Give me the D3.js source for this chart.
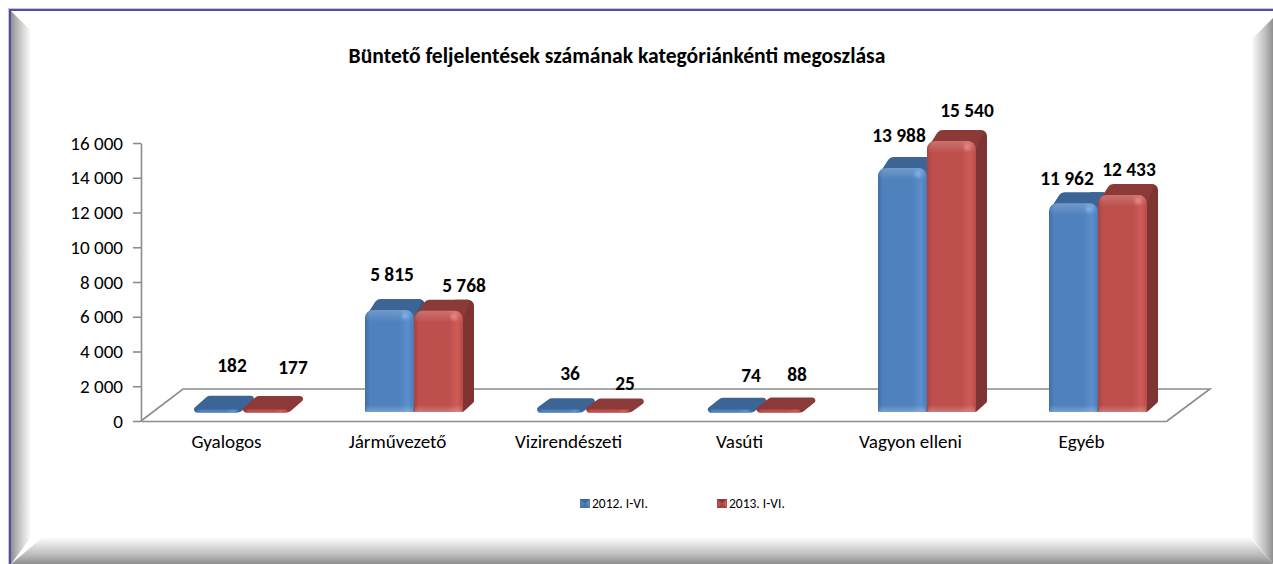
<!DOCTYPE html>
<html lang="hu"><head><meta charset="utf-8">
<style>html,body{margin:0;padding:0;background:#fff;overflow:hidden}svg{display:block}
text{font-family:Carlito,Calibri,Lato,sans-serif;fill:#000}</style>
<script src="https://cdn.jsdelivr.net/npm/d3@7"></script></head><body>
<script>
const chartTitle = "Büntető feljelentések számának kategóriánkénti megoszlása";
const categories = ["Gyalogos","Járművezető","Vizirendészeti","Vasúti","Vagyon elleni","Egyéb"];
const seriesNames = ["2012. I-VI.","2013. I-VI."];
const values2012 = [182,5815,36,74,13988,11962];
const values2013 = [177,5768,25,88,15540,12433];
const yTicks = [0,2000,4000,6000,8000,10000,12000,14000,16000];
const nudges2012 = [[8,-19],[-3,-12],[4,-13],[14,-11],[-9,-9],[-12,-1]];
const nudges2013 = [[20,-17],[20,-2],[10,-3],[11,-11],[10,-7],[1,-2]];

const W=1273,H=564;
const svg=d3.select("body").append("svg").attr("width",W).attr("height",H).attr("viewBox",`0 0 ${W} ${H}`);
const defs=svg.append("defs");
function lin(id,x1,y1,x2,y2,stops){
  const g=defs.append("linearGradient").attr("id",id).attr("x1",x1).attr("y1",y1).attr("x2",x2).attr("y2",y2);
  stops.forEach(s=>g.append("stop").attr("offset",s[0]).attr("stop-color",s[1]).attr("stop-opacity",s[2]===undefined?1:s[2]));
}
lin("bvL",0,0,1,0,[[0,"#8f8f8f"],[.35,"#bdbdbd"],[1,"#ffffff"]]);
lin("bvR",1,0,0,0,[[0,"#8f8f8f"],[.35,"#bdbdbd"],[1,"#ffffff"]]);
lin("bvB",0,1,0,0,[[0,"#8f8f8f"],[.35,"#bdbdbd"],[1,"#ffffff"]]);
lin("shT",0,0,0,1,[[0,"#ffffff",.2],[1,"#ffffff",0]]);
lin("shB",0,0,0,1,[[0,"#ffffff",0],[1,"#ffffff",.25]]);

// frame
const line=d3.line();
svg.append("path").attr("d",line([[11,11],[31,31],[31,537],[11,564]])+"Z").attr("fill","url(#bvL)");
svg.append("path").attr("d",line([[1273,18],[1251,40],[1251,537],[1273,564]])+"Z").attr("fill","url(#bvR)");
svg.append("path").attr("d",line([[11,564],[43,537],[1250,537],[1273,564]])+"Z").attr("fill","url(#bvB)");
svg.append("rect").attr("x",8).attr("y",8).attr("width",1265).attr("height",1).attr("fill","#c8c8c8");
svg.append("rect").attr("x",8).attr("y",8).attr("width",1).attr("height",556).attr("fill","#c8c8c8");
svg.append("rect").attr("x",9).attr("y",9).attr("width",1264).attr("height",2).attr("fill","#4f4fa8");
svg.append("rect").attr("x",9).attr("y",9).attr("width",2).attr("height",555).attr("fill","#4f4fa8");

svg.append("text").attr("x",617).attr("y",63).attr("text-anchor","middle")
  .attr("font-size",21.6).attr("font-weight",700).text(chartTitle);

// scales
const x0=d3.scaleBand().domain(categories).range([141,1167]);
const x1=d3.scaleBand().domain(seriesNames).range([53,151]);
const y=d3.scaleLinear().domain([0,16000]).range([421,143]);
const depthX=11, baseLift=10, backRise=11, floorX=42, floorY=32;
const fmt=v=>d3.format(",")(v).replace(/,/g," ");
const gridColor="#8c8c8c";

// floor
svg.append("path").attr("fill","none").attr("stroke",gridColor).attr("stroke-width",1.6)
  .attr("d",line([[x0.range()[0],y(0)],[x0.range()[0]+floorX,y(0)-floorY],[x0.range()[1]+floorX+1,y(0)-floorY],[x0.range()[1],y(0)]]));

// axes
const ya=svg.append("g").attr("transform","translate(141,0)")
  .call(d3.axisLeft(y).tickValues(yTicks).tickFormat(fmt).tickSize(8).tickSizeOuter(0).tickPadding(10));
const xa=svg.append("g").attr("transform",`translate(0,${y(0)})`)
  .call(d3.axisBottom(x0).tickSize(0).tickPadding(13));
[ya,xa].forEach(a=>{a.selectAll("path,line").attr("stroke",gridColor).attr("stroke-width",1.6);
  a.selectAll("text").attr("font-size",19.1).attr("font-family","Carlito,Calibri,Lato,sans-serif").attr("fill","#000");});
xa.selectAll("text").attr("dy","0.71em");

// bars
const palette=[
 {id:"b",front:["#3f6fa8","#4f81bd","#4f81bd","#5b8fcc","#4a7ab4"],rim:"#6ea5e0",top:"#3c6596",side:"#365a87",glow:"#7db4ee"},
 {id:"r",front:["#a84240","#bd4f4c","#bd4f4c","#cf5b58","#b84a47"],rim:"#e07570",top:"#8c3a38",side:"#7e3432",glow:"#ee8a85"}];
palette.forEach(p=>{
  lin("f"+p.id,0,0,1,0,[[0,p.front[0]],[.1,p.front[1]],[.7,p.front[2]],[.88,p.front[3]],[1,p.front[4]]]);
  const g=defs.append("radialGradient").attr("id","g"+p.id);
  g.append("stop").attr("offset",0).attr("stop-color",p.glow).attr("stop-opacity",.95);
  g.append("stop").attr("offset",1).attr("stop-color",p.glow).attr("stop-opacity",0);
});
function rounded(pts,rs){
  const p=d3.path(),n=pts.length;
  const a=pts[n-1],b=pts[0];
  p.moveTo((a[0]+b[0])/2,(a[1]+b[1])/2);
  for(let i=0;i<n;i++){
    const c=pts[i],d=pts[(i+1)%n];
    p.arcTo(c[0],c[1],d[0],d[1],Array.isArray(rs)?rs[i]:rs);
  }
  p.closePath();
  return p.toString();
}
const bars=svg.append("g");
[values2012,values2013].forEach((vals,s)=>{
  const name=seriesNames[s],c=palette[s];
  const bw=x1.bandwidth();
  vals.forEach((v,i)=>{
    const g=bars.append("g");
    const xl=x0(categories[i])+x1(name), xr=xl+bw;
    const yb=y(0)-baseLift, yt=y(v)-baseLift;
    const h=yb-yt, tall=h>12, r=8;
    if(tall){
      const yf=yt+8;
      g.append("path").attr("fill",c.side)
        .attr("d",rounded([[xr-8,yt-backRise],[xr+depthX,yt-backRise],[xr+depthX,yb-9],[xr,yb+1],[xr-4,yb+1]],[0,6,3,3,0]));
      g.append("path").attr("fill",c.top)
        .attr("d",rounded([[xl,yf],[xl+depthX+1,yt-backRise],[xr+depthX-3,yt-backRise],[xr,yf]],[3,6,2,2]));
      g.append("path").attr("fill",`url(#f${c.id})`)
        .attr("d",rounded([[xl,yb+1],[xl,yt],[xr,yt],[xr,yb+1]],[1.5,r,r,1.5]));
      g.append("path").attr("fill","url(#shT)")
        .attr("d",rounded([[xl+1,yt+12],[xl+1,yt],[xr-1,yt],[xr-1,yt+12]],[0,r,r,0]));
      g.append("rect").attr("x",xl+1).attr("y",yb-6).attr("width",bw-2).attr("height",7).attr("fill","url(#shB)");
      g.append("ellipse").attr("cx",xr-9).attr("cy",yt+6).attr("rx",5).attr("ry",5).attr("fill",`url(#g${c.id})`);
    } else {
      // nearly empty bar: a flat rounded slab seen from above
      g.append("path").attr("fill",c.top)
        .attr("d",rounded([[xl-5,yb+1.5],[xl+depthX+3,yt-backRise-1],[xr+depthX+5,yt-backRise-1],[xr-3,yb+1.5]],[3,6,3,6]));
      g.append("path").attr("fill",`url(#f${c.id})`)
        .attr("d",rounded([[xl+2,yb+1.5],[xl+3,yb-1.5],[xr-4,yb-1.5],[xr-6,yb+1.5]],1));
    }
  });
});
// data labels drawn above every bar
[values2012,values2013].forEach((vals,s)=>{
  const name=seriesNames[s],nudge=s?nudges2013:nudges2012,bw=x1.bandwidth();
  vals.forEach((v,i)=>{
    svg.append("text")
      .attr("x",x0(categories[i])+x1(name)+bw/2+5.5+nudge[i][0])
      .attr("y",y(v)-34+nudge[i][1])
      .attr("dy","0.35em").attr("text-anchor","middle")
      .attr("font-size",19.4).attr("font-weight",700).text(fmt(v));
  });
});

// legend
const lx=d3.scalePoint().domain(seriesNames).range([580,717]);
seriesNames.forEach((n,s)=>{
  const c=palette[s],g=svg.append("g").attr("transform",`translate(${lx(n)},499)`);
  g.append("rect").attr("width",10).attr("height",9).attr("fill",`url(#f${c.id})`);
  g.append("path").attr("d",line([[0,0],[10,0],[5,4.5]])+"Z").attr("fill",c.top);
  g.append("path").attr("d",line([[0,9],[10,9],[5,4.5]])+"Z").attr("fill",c.top).attr("opacity",.6);
  g.append("text").attr("x",12).attr("y",9.2).attr("font-size",13.5).text(n);
});
</script></body></html>
